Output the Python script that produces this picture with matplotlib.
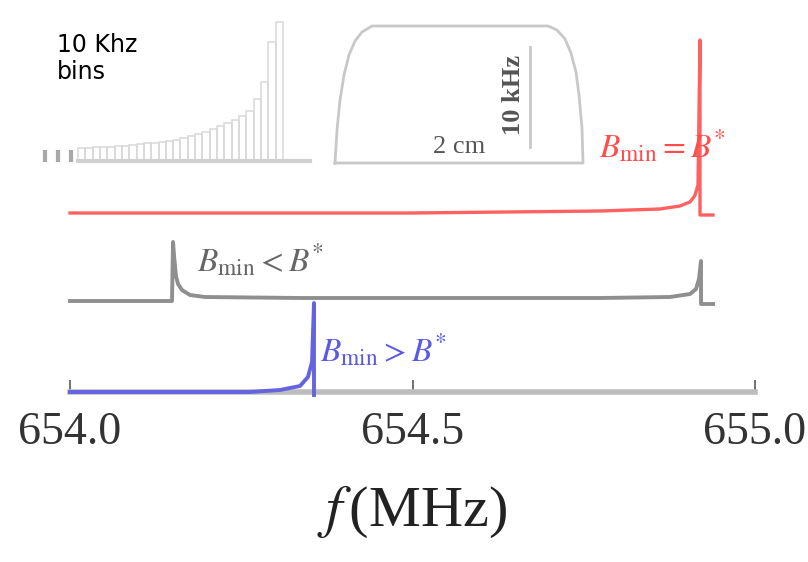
import matplotlib
matplotlib.use("Agg")
import matplotlib.pyplot as plt

plt.rcParams['mathtext.fontset'] = 'stix'

# spectra: frequency (MHz) and height above each trace's baseline (px)
red_f = [654.0, 654.5, 654.774, 654.861, 654.8905, 654.905, 654.912, 654.9168, 654.9197, 654.9197, 654.9387]
red_a = [0, 0, 2, 4, 7, 11, 17, 28, 173, -2, -2]

gray_f = [654.0, 654.1489, 654.1504, 654.1518, 654.1547, 654.1577, 654.1635, 654.1752, 654.1971, 654.3358,
          654.7737, 654.8759, 654.9051, 654.9139, 654.9182, 654.9212, 654.9212, 654.9387]
gray_a = [0, 0, 59, 46, 25, 17, 11, 6, 4, 3, 3, 4, 7, 12, 22, 40, -3, -3]

blue_f = [654.0, 654.2628, 654.3066, 654.3358, 654.3474, 654.3533, 654.3562, 654.3562]
blue_a = [0, 0, 2, 6, 15, 30, 89, -3]

red_base, gray_base, blue_base = 213, 301, 392
ticks = [654.0, 654.5, 655.0]
tick_labels = ["654.0", "654.5", "655.0"]

# 10 kHz bins inset (bin index, height)
bin_h = [13, 13.5, 14, 14, 14.5, 15, 15.5, 16, 17, 18, 18.5, 19, 20, 21,
         23, 25, 27, 29, 32, 35, 38, 41, 45, 50, 62, 79, 119, 139]

# trap outline (px)
trap_x = [335, 337, 340, 344, 349, 355, 362, 372, 548, 557, 565, 571, 576, 579, 582, 583, 335]
trap_y = [163, 130, 100, 75, 55, 41, 32, 26, 26, 30, 39, 53, 72, 95, 128, 163, 163]

W, H = 808, 562
fig = plt.figure(figsize=(W / 100, H / 100), dpi=100)

ax = fig.add_axes([0, 0, 1, 1])
ax.set_xlim(654.0 - 70 / 685, 655.0 + (W - 755) / 685)
ax.set_ylim(H, 0)
ax.patch.set_alpha(0)

ax.plot(red_f, [red_base - a for a in red_a], color='#ff6161', lw=2.4, solid_joinstyle='round')
ax.plot(gray_f, [gray_base - a for a in gray_a], color='#8f8f8f', lw=2.8, solid_joinstyle='round')
ax.plot(blue_f, [blue_base - a for a in blue_a], color='#6464e0', lw=2.8, solid_joinstyle='round', zorder=5)

for s in ['top', 'left', 'right']:
    ax.spines[s].set_visible(False)
ax.spines['bottom'].set_position(('data', blue_base))
ax.spines['bottom'].set_bounds(654.0, 655.0)
ax.spines['bottom'].set_color('#bdbdbd')
ax.spines['bottom'].set_linewidth(4)
ax.set_yticks([])
ax.set_xticks(ticks)
ax.set_xticklabels(tick_labels, family='Liberation Serif', fontsize=33, color='#333333')
ax.tick_params(axis='x', direction='in', length=9, width=1.3, color='#666666', pad=14)

ax.text(654.5, 512, r"$f\,$(MHz)", ha='center', va='center', fontsize=42,
        family='Liberation Serif', color='#222222')

ax.text(654.772, 158, r"$B_{\mathrm{min}} = B^{*}$", color='#ff4d4d', fontsize=24)
ax.text(654.186, 272, r"$B_{\mathrm{min}} < B^{*}$", color='#666666', fontsize=24)
ax.text(654.365, 362, r"$B_{\mathrm{min}} > B^{*}$", color='#5a5ae6', fontsize=24)

fig.text(57 / W, 1 - 33 / H, "10 Khz\nbins", fontsize=17, va='top', ha='left',
         color='black', linespacing=1.15)

# bins inset
x0, x1, y0, y1 = 40, 315, 15, 170
ax1 = fig.add_axes([x0 / W, 1 - y1 / H, (x1 - x0) / W, (y1 - y0) / H])
ax1.set_xlim((x0 - 81.66) / 7.32, (x1 - 81.66) / 7.32)
ax1.set_ylim(-(y1 - 161), 161 - y0)
ax1.axis('off')
ax1.bar(range(len(bin_h)), bin_h, width=1, fill=False, edgecolor='#d9d9d9', lw=1.1)
ax1.plot([-0.5, 31.2], [0, 0], color='#d0d0d0', lw=3)
ax1.plot([-5.0, -3.23, -1.46], [5, 5, 5], ls='none', marker='|', ms=8, mew=3, color='#a8a8a8')

# trap inset
x0, x1 = 320, 600
ax2 = fig.add_axes([x0 / W, 1 - y1 / H, (x1 - x0) / W, (y1 - y0) / H])
ax2.set_xlim(x0, x1)
ax2.set_ylim(y1, y0)
ax2.axis('off')
ax2.plot(trap_x, trap_y, color='#c8c8c8', lw=2)
ax2.plot([530, 530], [47, 147], color='#c8c8c8', lw=2)
ax2.text(459, 147, "2 cm", ha='center', va='center', fontsize=19,
         family='Liberation Serif', color='#555555')
ax2.text(513, 95, "10 kHz", ha='center', va='center', rotation=90, fontsize=19,
         family='Liberation Serif', weight='bold', color='#555555')

fig.savefig("out.png", dpi=100)
